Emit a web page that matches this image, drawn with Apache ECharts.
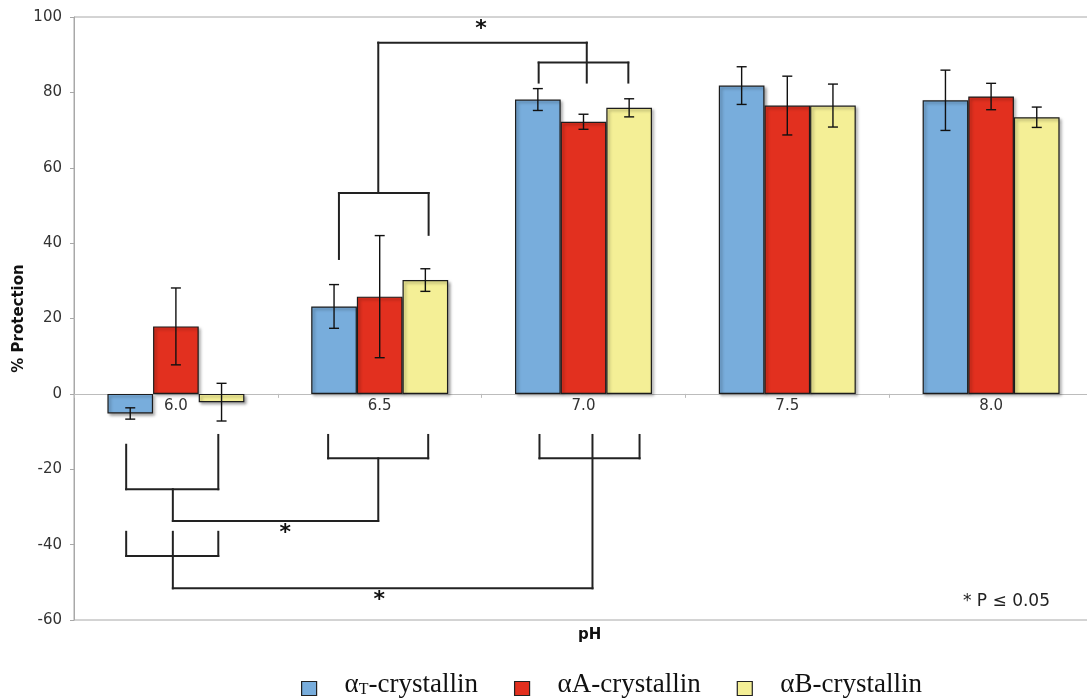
<!DOCTYPE html>
<html>
<head>
<meta charset="utf-8">
<script src="https://cdn.jsdelivr.net/npm/echarts@6/dist/echarts.min.js"></script>
<style>
  html, body { margin: 0; padding: 0; background: #fff; }
  #chart { width: 1087px; height: 699px; }
</style>
</head>
<body>
<div id="chart"></div>
<script>
// pH values on the category axis
const categories = ['6.0', '6.5', '7.0', '7.5', '8.0'];

// Mean % protection for each crystallin
const alphaT = [-5.2, 23.2, 78.1, 81.8, 77.9];
const alphaA = [17.9, 25.8, 72.2, 76.5, 78.9];
const alphaB = [-2.2, 30.2, 75.9, 76.5, 73.4];

// Error bar half-lengths
const alphaTErr = [1.5, 5.8, 2.9, 5.0, 8.0];
const alphaAErr = [10.2, 16.2, 2.0, 7.8, 3.5];
const alphaBErr = [5.0, 3.0, 2.4, 5.7, 2.7];

// Y-axis range
const yMin = -60, yMax = 100, yStep = 20;

// Significance brackets: segments [x1, y1, x2, y2], x in category units (0 = pH 6.0)
const bracketSegments = [
  // 6.5 group bracket above bars
  [0.80, 35.8, 0.80, 53.3], [0.80, 53.3, 1.24, 53.3], [1.24, 53.3, 1.24, 42.2],
  // link 6.5 -> 7.0 above
  [0.993, 53.3, 0.993, 93.2], [0.993, 93.2, 2.016, 93.2], [2.016, 93.2, 2.016, 82.6],
  // 7.0 group bracket above bars
  [1.78, 82.6, 1.78, 87.9], [1.78, 87.9, 2.22, 87.9], [2.22, 87.9, 2.22, 82.6],
  // 6.0 upper bracket below axis
  [-0.244, -13.5, -0.244, -25.3], [-0.244, -25.3, 0.208, -25.3], [0.208, -25.3, 0.208, -10.9],
  [-0.015, -25.3, -0.015, -33.7], [-0.015, -33.7, 0.993, -33.7], [0.993, -33.7, 0.993, -17.1],
  // 6.5 bracket below axis
  [0.747, -10.9, 0.747, -17.1], [0.747, -17.1, 1.238, -17.1], [1.238, -17.1, 1.238, -10.9],
  // 6.0 lower bracket
  [-0.244, -36.6, -0.244, -43.0], [-0.244, -43.0, 0.208, -43.0], [0.208, -43.0, 0.208, -36.6],
  [-0.015, -36.6, -0.015, -51.6], [-0.015, -51.6, 2.044, -51.6],
  // 7.0 bracket below axis
  [1.784, -10.9, 1.784, -17.1], [1.784, -17.1, 2.275, -17.1], [2.275, -17.1, 2.275, -10.9],
  [2.044, -10.9, 2.044, -51.6]
];

// Significance markers [x, y]
const starMarks = [[1.497, 96.7], [0.536, -36.9], [0.998, -54.7]];

const seriesNames = ['aT', 'aA', 'aB'];
const seriesColors = ['#78addc', '#e2301f', '#f4ef96'];
const barWidthFrac = 0.224;

const errData = [];
[alphaT, alphaA, alphaB].forEach((vals, s) => {
  const errs = [alphaTErr, alphaAErr, alphaBErr][s];
  vals.forEach((v, i) => errData.push([i, s, v, errs[i]]));
});

const chart = echarts.init(document.getElementById('chart'));

const barSeries = [alphaT, alphaA, alphaB].map((vals, s) => ({
  name: seriesNames[s],
  type: 'bar',
  data: vals,
  barWidth: (barWidthFrac * 100) + '%',
  barGap: '0%',
  itemStyle: {
    color: seriesColors[s],
    borderColor: '#1c1c1c',
    borderWidth: 1.2,
    shadowColor: 'rgba(0,0,0,0.35)',
    shadowBlur: 3,
    shadowOffsetX: 2,
    shadowOffsetY: 2
  },
  emphasis: { disabled: true }
}));

chart.setOption({
  animation: false,
  backgroundColor: '#fff',
  grid: {
    left: 74, width: 1019, top: 17, bottom: 79,
    outerBoundsMode: 'none',
    containLabel: false,
    show: true, borderColor: '#a8a8a8', borderWidth: 1
  },
  legend: {
    left: 296, top: 666,
    icon: 'rect',
    itemWidth: 15, itemHeight: 14, itemGap: 36,
    data: seriesNames,
    itemStyle: { borderColor: '#222', borderWidth: 1.2, shadowBlur: 0, shadowOffsetX: 0, shadowOffsetY: 0 },
    formatter: name => {
      if (name === 'aT') return '{a|α}{s|T}{a|-crystallin}';
      if (name === 'aA') return '{a|αA-crystallin}';
      return '{a|αB-crystallin}';
    },
    textStyle: {
      padding: [0, 0, 0, 23],
      rich: {
        a: { fontFamily: 'Liberation Serif', fontSize: 27, color: '#111', padding: [0, 0, 8, 0] },
        s: { fontFamily: 'Liberation Serif', fontSize: 16, color: '#111', padding: [10, 0, 8, 0] }
      }
    }
  },
  xAxis: {
    type: 'category',
    data: categories,
    axisLine: { onZero: true, lineStyle: { color: '#bcbcbc' } },
    axisTick: { show: true, length: 4, lineStyle: { color: '#bcbcbc' } },
    axisLabel: { show: false },
    splitLine: { show: false }
  },
  yAxis: {
    type: 'value',
    min: yMin, max: yMax, interval: yStep,
    name: '% Protection',
    nameLocation: 'middle',
    nameGap: 47,
    nameMoveOverlap: false,
    nameTextStyle: { fontSize: 15, fontWeight: 'bold', color: '#111', fontFamily: 'DejaVu Sans' },
    axisLine: { show: true, lineStyle: { color: '#a8a8a8' } },
    axisTick: { show: true, length: 4, lineStyle: { color: '#a8a8a8' } },
    axisLabel: { margin: 12, fontSize: 15, color: '#333', fontFamily: 'DejaVu Sans' },
    splitLine: { show: false }
  },
  graphic: [
    { type: 'text', left: 578, top: 628,
      style: { text: 'pH', fontSize: 15, fontWeight: 'bold', fill: '#111', fontFamily: 'DejaVu Sans' } },
    { type: 'text', right: 37, top: 593,
      style: { text: '* P ≤ 0.05', fontSize: 17, fill: '#222', fontFamily: 'DejaVu Sans' } }
  ],
  series: [
    ...barSeries,
    {
      // category labels sitting just under the zero line
      type: 'custom',
      name: 'catLabels',
      data: categories.map((c, i) => [i, 0]),
      encode: { x: 0, y: 1 },
      z: 4,
      clip: false,
      silent: true,
      renderItem: (params, api) => {
        const p = api.coord([api.value(0), 0]);
        return {
          type: 'text',
          style: {
            text: categories[params.dataIndex],
            x: p[0], y: p[1] + 5,
            align: 'center', verticalAlign: 'top',
            fontSize: 15, fill: '#333', fontFamily: 'DejaVu Sans'
          }
        };
      }
    },
    {
      type: 'custom',
      name: 'errors',
      data: errData,
      encode: { x: 0, y: 2 },
      z: 5,
      clip: false,
      silent: true,
      renderItem: (params, api) => {
        const cat = api.value(0), s = api.value(1), v = api.value(2), e = api.value(3);
        const band = api.size([1, 0])[0];
        const cx = api.coord([cat, 0])[0] + (s - 1) * band * barWidthFrac;
        const top = api.coord([cat, v + e])[1];
        const bot = api.coord([cat, v - e])[1];
        const cap = 5;
        const st = { stroke: '#111', lineWidth: 1.4 };
        return {
          type: 'group',
          children: [
            { type: 'line', shape: { x1: cx, y1: top, x2: cx, y2: bot }, style: st },
            { type: 'line', shape: { x1: cx - cap, y1: top, x2: cx + cap, y2: top }, style: st },
            { type: 'line', shape: { x1: cx - cap, y1: bot, x2: cx + cap, y2: bot }, style: st }
          ]
        };
      }
    },
    {
      type: 'custom',
      name: 'brackets',
      data: bracketSegments,
      encode: { x: 0, y: 1 },
      z: 6,
      clip: false,
      silent: true,
      renderItem: (params, api) => {
        const band = api.size([1, 0])[0];
        const x0 = api.coord([0, 0])[0];
        const px = x => x0 + x * band;
        return {
          type: 'line',
          shape: {
            x1: px(api.value(0)), y1: api.coord([0, api.value(1)])[1],
            x2: px(api.value(2)), y2: api.coord([0, api.value(3)])[1]
          },
          style: { stroke: '#222', lineWidth: 2, lineCap: 'square' }
        };
      }
    },
    {
      type: 'custom',
      name: 'stars',
      data: starMarks,
      encode: { x: 0, y: 1 },
      z: 6,
      clip: false,
      silent: true,
      renderItem: (params, api) => {
        const band = api.size([1, 0])[0];
        const x0 = api.coord([0, 0])[0];
        return {
          type: 'text',
          style: {
            text: '*',
            x: x0 + api.value(0) * band,
            y: api.coord([0, api.value(1)])[1],
            align: 'center', verticalAlign: 'middle',
            fontSize: 22, fontWeight: 'bold', fill: '#111', fontFamily: 'DejaVu Sans'
          }
        };
      }
    }
  ]
});
</script>
</body>
</html>
